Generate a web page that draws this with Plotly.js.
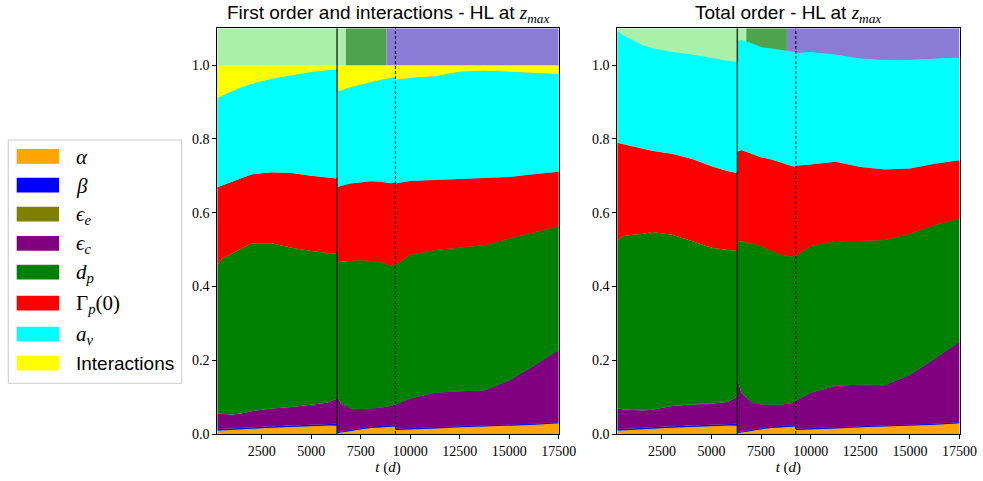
<!DOCTYPE html>
<html><head><meta charset="utf-8">
<script src="https://cdn.plot.ly/plotly-3.0.1.min.js"></script>
<style>html,body{margin:0;padding:0;background:#fff}</style>
</head><body><div id="chart" style="width:983px;height:481px"></div>
<script>
// time grid (days); repeated values mark the jumps between the three simulation phases
const t = [250,500,1000,1500,2000,3000,4000,5000,5800,6300,
           6300,6500,7000,7500,8000,8500,9000,9250,
           9250,10000,11250,12500,13750,15000,16250,17500];

// Upper edges of the stacked Sobol-index bands — first order + interactions
const fo_alpha = [0.009,0.010,0.011,0.012,0.014,0.017,0.019,0.022,0.023,0.024, 0.002,0.004,0.009,0.013,0.016,0.018,0.020,0.020, 0.011,0.012,0.015,0.018,0.020,0.022,0.025,0.029];
const fo_beta  = [0.013,0.014,0.015,0.016,0.018,0.021,0.023,0.026,0.027,0.028, 0.005,0.007,0.012,0.017,0.020,0.022,0.024,0.024, 0.014,0.015,0.018,0.021,0.023,0.025,0.028,0.032];
const fo_epsE  = [0.013,0.014,0.015,0.016,0.018,0.021,0.023,0.026,0.027,0.028, 0.005,0.007,0.012,0.017,0.020,0.022,0.024,0.024, 0.014,0.015,0.018,0.021,0.023,0.025,0.028,0.032];
const fo_epsC  = [0.056,0.054,0.053,0.056,0.062,0.069,0.073,0.079,0.085,0.096, 0.103,0.082,0.069,0.068,0.069,0.071,0.076,0.080, 0.079,0.096,0.112,0.116,0.118,0.145,0.185,0.228];
const fo_dp    = [0.458,0.476,0.490,0.503,0.517,0.517,0.505,0.496,0.491,0.490, 0.465,0.467,0.470,0.471,0.469,0.465,0.457,0.462, 0.458,0.486,0.499,0.505,0.512,0.530,0.546,0.563];
const fo_gamma = [0.669,0.674,0.684,0.695,0.704,0.710,0.708,0.700,0.695,0.693, 0.669,0.673,0.679,0.683,0.685,0.684,0.680,0.681, 0.679,0.686,0.689,0.691,0.695,0.697,0.704,0.711];
const fo_av    = [0.911,0.918,0.930,0.941,0.950,0.963,0.973,0.982,0.986,0.989, 0.930,0.932,0.940,0.948,0.954,0.960,0.965,0.968, 0.960,0.965,0.970,0.982,0.985,0.982,0.979,0.976];
const fo_inter = [1,1,1,1,1,1,1,1,1,1, 1,1,1,1,1,1,1,1, 1,1,1,1,1,1,1,1];

// Upper edges — total order
const to_alpha = [0.009,0.010,0.011,0.012,0.014,0.017,0.019,0.022,0.023,0.024, 0.002,0.004,0.009,0.013,0.016,0.018,0.020,0.020, 0.011,0.012,0.015,0.018,0.020,0.022,0.025,0.029];
const to_beta  = [0.013,0.014,0.015,0.016,0.018,0.021,0.023,0.026,0.027,0.028, 0.005,0.007,0.012,0.017,0.020,0.022,0.024,0.024, 0.014,0.015,0.018,0.021,0.023,0.025,0.028,0.032];
const to_epsE  = [0.013,0.014,0.015,0.016,0.018,0.021,0.023,0.026,0.027,0.028, 0.005,0.007,0.012,0.017,0.020,0.022,0.024,0.024, 0.014,0.015,0.018,0.021,0.023,0.025,0.028,0.032];
const to_epsC  = [0.070,0.067,0.065,0.064,0.066,0.076,0.080,0.082,0.087,0.101, 0.150,0.112,0.087,0.080,0.080,0.080,0.083,0.090, 0.089,0.112,0.130,0.134,0.133,0.160,0.204,0.250];
const to_dp    = [0.523,0.536,0.540,0.542,0.548,0.540,0.523,0.505,0.499,0.497, 0.523,0.522,0.517,0.509,0.497,0.486,0.481,0.482, 0.483,0.510,0.523,0.523,0.526,0.543,0.567,0.584];
const to_gamma = [0.790,0.786,0.780,0.774,0.768,0.760,0.746,0.726,0.713,0.708, 0.765,0.770,0.761,0.750,0.744,0.735,0.727,0.724, 0.727,0.731,0.738,0.724,0.717,0.720,0.733,0.742];
const to_av    = [1.093,1.082,1.068,1.055,1.046,1.036,1.029,1.019,1.012,1.009, 1.065,1.068,1.060,1.049,1.046,1.042,1.038,1.036, 1.033,1.036,1.029,1.018,1.014,1.015,1.018,1.021];

const xTicks = [2500,5000,7500,10000,12500,15000,17500];
const yTicks = [0,0.2,0.4,0.6,0.8,1.0];
const yTickText = ['0.0','0.2','0.4','0.6','0.8','1.0'];

// phases shown as background bands
const phaseStart = [250, 6750, 8800];
const phaseEnd   = [6750, 8800, 17500];
const phaseColor = ['#a9f0a9', '#4fa34f', '#897bd6'];
const tSolid = 6300, tDashed = 9250;

const SERIF = 'Liberation Serif, DejaVu Serif, serif';
const SANS = 'Liberation Sans, Arial, sans-serif';
const m = s => '<span style="font-family:' + SERIF + '">' + s + '</span>';

const layerNames = ['<i>α</i>', '<i>β</i>', '<i>ϵ</i><sub><i>e</i></sub>', '<i>ϵ</i><sub><i>c</i></sub>',
                    '<i>d</i><sub><i>p</i></sub>', 'Γ<sub><i>p</i></sub>(0)', '<i>a</i><sub><i>v</i></sub>', 'Interactions'];
const layerIsMath = [true, true, true, true, true, true, true, false];
const layerColors = ['#ffa500','#0000ff','#808000','#800080','#008000','#ff0000','#00ffff','#ffff00'];
const foEdges = [fo_alpha, fo_beta, fo_epsE, fo_epsC, fo_dp, fo_gamma, fo_av, fo_inter];
const toEdges = [to_alpha, to_beta, to_epsE, to_epsC, to_dp, to_gamma, to_av];

const traces = [];
function addStack(edges, xa, ya) {
  edges.forEach((arr, i) => {
    traces.push({
      x: t, y: arr, xaxis: xa, yaxis: ya, type: 'scatter', mode: 'lines',
      line: {width: 0, color: layerColors[i]},
      fill: i === 0 ? 'tozeroy' : 'tonexty', fillcolor: layerColors[i],
      showlegend: false, hoverinfo: 'skip'
    });
  });
}
addStack(foEdges, 'x', 'y');
addStack(toEdges, 'x2', 'y2');

const W = 983, H = 481;
const px = v => v / W, py = v => 1 - v / H;

const shapes = [];
const annotations = [];
[['x','y'],['x2','y2']].forEach(([xa, ya]) => {
  for (let i = 0; i < phaseStart.length; i++) {
    shapes.push({type:'rect', xref:xa, yref:ya, x0:phaseStart[i], x1:phaseEnd[i], y0:0, y1:1.1,
                 fillcolor:phaseColor[i], line:{width:0}, layer:'below'});
  }
  shapes.push({type:'line', xref:xa, yref:ya, x0:tSolid, x1:tSolid, y0:0, y1:1.1,
               line:{color:'rgba(20,20,20,0.85)', width:1.5}, layer:'above'});
  shapes.push({type:'line', xref:xa, yref:ya, x0:tDashed, x1:tDashed, y0:0, y1:1.1,
               line:{color:'#000', width:1, dash:'3px,2px'}, layer:'above'});
});

// legend box (drawn manually to match patch-style swatches)
shapes.push({type:'rect', xref:'paper', yref:'paper', x0:px(8.3), x1:px(181.7), y0:py(140), y1:py(383.3),
             fillcolor:'#fff', line:{color:'#cccccc', width:1}});
const swTop = [149, 177.7, 206.7, 236, 264.7, 295.7, 326.7, 355.7];
swTop.forEach((ty, i) => {
  shapes.push({type:'rect', xref:'paper', yref:'paper', x0:px(16.7), x1:px(59), y0:py(ty + 14.7), y1:py(ty),
               fillcolor:layerColors[i], line:{width:0}});
  annotations.push({xref:'paper', yref:'paper', x:px(74), y:py(ty + 8), xanchor:'left', yanchor:'middle',
                    text:layerNames[i], showarrow:false,
                    font:{family: layerIsMath[i] ? SERIF : SANS, size: layerIsMath[i] ? 21 : 19, color:'#000'}});
});

const xDom1 = [px(217.3), px(558.7)], xDom2 = [px(617.3), px(959.5)];
const yDom = [py(434), py(28.3)];
const zmax = m('<i>z</i><sub><i>max</i></sub>');
const titles = ['First order and interactions - HL at ' + zmax, 'Total order - HL at ' + zmax];
[xDom1, xDom2].forEach((d, i) => {
  annotations.push({xref:'paper', yref:'paper', x:(d[0]+d[1])/2, y:py(14), xanchor:'center', yanchor:'middle',
                    text:titles[i], showarrow:false, font:{family:SANS, size:19, color:'#000'}});
});

function xAxis(dom, anchor) {
  return {domain:dom, anchor:anchor, range:[250,17500], tickvals:xTicks, ticktext:xTicks.map(String),
          ticks:'outside', ticklen:4, tickcolor:'#000', showline:true, mirror:true, linecolor:'#000', linewidth:1,
          showgrid:false, zeroline:false, tickfont:{family:SERIF, size:14, color:'#000'},
          title:{text:'<i>t</i> (<i>d</i>)', font:{family:SERIF, size:15, color:'#000'}, standoff:3}};
}
function yAxis(anchor) {
  return {domain:yDom, anchor:anchor, range:[0,1.1], tickvals:yTicks, ticktext:yTickText,
          ticks:'outside', ticklen:4, tickcolor:'#000', showline:true, mirror:true, linecolor:'#000', linewidth:1,
          showgrid:false, zeroline:false, tickfont:{family:SERIF, size:14, color:'#000'}};
}

const layout = {
  width: W, height: H, margin:{l:0, r:0, t:0, b:0},
  paper_bgcolor:'#fff', plot_bgcolor:'#fff', showlegend:false,
  xaxis: xAxis(xDom1, 'y'), yaxis: yAxis('x'),
  xaxis2: xAxis(xDom2, 'y2'), yaxis2: yAxis('x2'),
  shapes: shapes, annotations: annotations
};

Plotly.newPlot('chart', traces, layout, {staticPlot:true, displayModeBar:false});
</script></body></html>
